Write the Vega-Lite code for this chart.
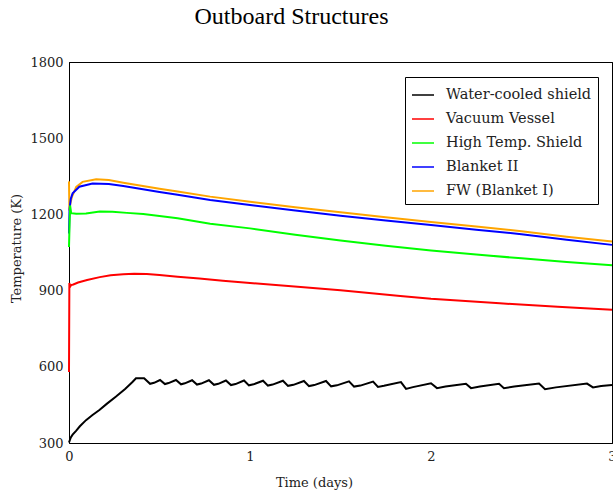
{
  "$schema": "https://vega.github.io/schema/vega-lite/v6.json",
  "width": 543,
  "height": 381,
  "autosize": {"type": "none"},
  "padding": {"left": 69, "top": 62, "right": 1, "bottom": 49},
  "background": "white",
  "title": {"text": "Outboard Structures", "font": "Liberation Serif", "fontSize": 24, "fontWeight": "normal", "color": "black", "anchor": "middle", "frame": "group", "dx": -49, "offset": 27},
  "config": {
    "view": {"stroke": "black", "strokeWidth": 1},
    "axis": {"grid": false, "domainColor": "black", "tickColor": "black", "tickWidth": 1, "labelFont": "DejaVu Serif", "labelFontSize": 13, "labelColor": "#222", "titleFont": "DejaVu Serif", "titleFontSize": 13, "titleFontWeight": "normal", "titleColor": "#222"}
  },
  "data": {"values": [
    {"series": "FW (Blanket I)", "t": 0, "temp": 1330},
    {"series": "FW (Blanket I)", "t": 0.002, "temp": 1215},
    {"series": "FW (Blanket I)", "t": 0.008, "temp": 1245},
    {"series": "FW (Blanket I)", "t": 0.017, "temp": 1270},
    {"series": "FW (Blanket I)", "t": 0.04, "temp": 1308},
    {"series": "FW (Blanket I)", "t": 0.075, "temp": 1328},
    {"series": "FW (Blanket I)", "t": 0.15, "temp": 1338},
    {"series": "FW (Blanket I)", "t": 0.22, "temp": 1335},
    {"series": "FW (Blanket I)", "t": 0.3, "temp": 1325},
    {"series": "FW (Blanket I)", "t": 0.4, "temp": 1313},
    {"series": "FW (Blanket I)", "t": 0.5, "temp": 1301},
    {"series": "FW (Blanket I)", "t": 0.6, "temp": 1290},
    {"series": "FW (Blanket I)", "t": 0.78, "temp": 1270},
    {"series": "FW (Blanket I)", "t": 1.0, "temp": 1250},
    {"series": "FW (Blanket I)", "t": 1.25, "temp": 1228},
    {"series": "FW (Blanket I)", "t": 1.5, "temp": 1208},
    {"series": "FW (Blanket I)", "t": 1.75, "temp": 1189},
    {"series": "FW (Blanket I)", "t": 2.0, "temp": 1170},
    {"series": "FW (Blanket I)", "t": 2.25, "temp": 1152},
    {"series": "FW (Blanket I)", "t": 2.5, "temp": 1134},
    {"series": "FW (Blanket I)", "t": 2.75, "temp": 1112},
    {"series": "FW (Blanket I)", "t": 3.0, "temp": 1093},
    {"series": "Blanket II", "t": 0, "temp": 1125},
    {"series": "Blanket II", "t": 0.003, "temp": 1222},
    {"series": "Blanket II", "t": 0.01, "temp": 1262},
    {"series": "Blanket II", "t": 0.02, "temp": 1283},
    {"series": "Blanket II", "t": 0.057, "temp": 1309},
    {"series": "Blanket II", "t": 0.13, "temp": 1322},
    {"series": "Blanket II", "t": 0.22, "temp": 1320},
    {"series": "Blanket II", "t": 0.3, "temp": 1312},
    {"series": "Blanket II", "t": 0.4, "temp": 1300},
    {"series": "Blanket II", "t": 0.5, "temp": 1288},
    {"series": "Blanket II", "t": 0.6, "temp": 1277},
    {"series": "Blanket II", "t": 0.78, "temp": 1257},
    {"series": "Blanket II", "t": 1.0, "temp": 1237},
    {"series": "Blanket II", "t": 1.25, "temp": 1215},
    {"series": "Blanket II", "t": 1.5, "temp": 1195},
    {"series": "Blanket II", "t": 1.75, "temp": 1176},
    {"series": "Blanket II", "t": 2.0, "temp": 1158},
    {"series": "Blanket II", "t": 2.25, "temp": 1140},
    {"series": "Blanket II", "t": 2.5, "temp": 1122},
    {"series": "Blanket II", "t": 2.75, "temp": 1100},
    {"series": "Blanket II", "t": 3.0, "temp": 1080},
    {"series": "High Temp. Shield", "t": 0, "temp": 1072},
    {"series": "High Temp. Shield", "t": 0.002, "temp": 1130},
    {"series": "High Temp. Shield", "t": 0.006, "temp": 1235},
    {"series": "High Temp. Shield", "t": 0.012, "temp": 1205},
    {"series": "High Temp. Shield", "t": 0.04, "temp": 1203},
    {"series": "High Temp. Shield", "t": 0.094, "temp": 1204},
    {"series": "High Temp. Shield", "t": 0.17, "temp": 1211},
    {"series": "High Temp. Shield", "t": 0.24, "temp": 1210},
    {"series": "High Temp. Shield", "t": 0.32, "temp": 1206},
    {"series": "High Temp. Shield", "t": 0.41, "temp": 1202},
    {"series": "High Temp. Shield", "t": 0.5, "temp": 1194},
    {"series": "High Temp. Shield", "t": 0.6, "temp": 1185},
    {"series": "High Temp. Shield", "t": 0.78, "temp": 1163},
    {"series": "High Temp. Shield", "t": 1.0, "temp": 1145},
    {"series": "High Temp. Shield", "t": 1.25, "temp": 1120},
    {"series": "High Temp. Shield", "t": 1.5, "temp": 1097},
    {"series": "High Temp. Shield", "t": 1.75, "temp": 1077},
    {"series": "High Temp. Shield", "t": 2.0, "temp": 1058},
    {"series": "High Temp. Shield", "t": 2.25, "temp": 1042},
    {"series": "High Temp. Shield", "t": 2.5, "temp": 1027},
    {"series": "High Temp. Shield", "t": 2.75, "temp": 1013},
    {"series": "High Temp. Shield", "t": 3.0, "temp": 1000},
    {"series": "Vacuum Vessel", "t": 0, "temp": 580},
    {"series": "Vacuum Vessel", "t": 0.002, "temp": 930},
    {"series": "Vacuum Vessel", "t": 0.006, "temp": 915},
    {"series": "Vacuum Vessel", "t": 0.012, "temp": 922},
    {"series": "Vacuum Vessel", "t": 0.024, "temp": 924},
    {"series": "Vacuum Vessel", "t": 0.05, "temp": 932},
    {"series": "Vacuum Vessel", "t": 0.1, "temp": 942},
    {"series": "Vacuum Vessel", "t": 0.17, "temp": 953},
    {"series": "Vacuum Vessel", "t": 0.23, "temp": 960},
    {"series": "Vacuum Vessel", "t": 0.3, "temp": 964},
    {"series": "Vacuum Vessel", "t": 0.36, "temp": 966},
    {"series": "Vacuum Vessel", "t": 0.43, "temp": 965},
    {"series": "Vacuum Vessel", "t": 0.5, "temp": 961},
    {"series": "Vacuum Vessel", "t": 0.6, "temp": 955},
    {"series": "Vacuum Vessel", "t": 0.72, "temp": 948},
    {"series": "Vacuum Vessel", "t": 0.85, "temp": 939},
    {"series": "Vacuum Vessel", "t": 1.0, "temp": 930},
    {"series": "Vacuum Vessel", "t": 1.28, "temp": 914},
    {"series": "Vacuum Vessel", "t": 1.5, "temp": 901},
    {"series": "Vacuum Vessel", "t": 1.83, "temp": 879},
    {"series": "Vacuum Vessel", "t": 2.0, "temp": 868},
    {"series": "Vacuum Vessel", "t": 2.38, "temp": 850},
    {"series": "Vacuum Vessel", "t": 2.7, "temp": 836},
    {"series": "Vacuum Vessel", "t": 3.0, "temp": 825},
    {"series": "Water-cooled shield", "t": 0, "temp": 302},
    {"series": "Water-cooled shield", "t": 0.01, "temp": 322},
    {"series": "Water-cooled shield", "t": 0.02, "temp": 333},
    {"series": "Water-cooled shield", "t": 0.039, "temp": 348},
    {"series": "Water-cooled shield", "t": 0.06, "temp": 366},
    {"series": "Water-cooled shield", "t": 0.094, "temp": 390},
    {"series": "Water-cooled shield", "t": 0.13, "temp": 410},
    {"series": "Water-cooled shield", "t": 0.168, "temp": 430},
    {"series": "Water-cooled shield", "t": 0.21, "temp": 455},
    {"series": "Water-cooled shield", "t": 0.26, "temp": 483},
    {"series": "Water-cooled shield", "t": 0.31, "temp": 513},
    {"series": "Water-cooled shield", "t": 0.352, "temp": 541},
    {"series": "Water-cooled shield", "t": 0.37, "temp": 555},
    {"series": "Water-cooled shield", "t": 0.415, "temp": 555},
    {"series": "Water-cooled shield", "t": 0.448, "temp": 533},
    {"series": "Water-cooled shield", "t": 0.47, "temp": 537},
    {"series": "Water-cooled shield", "t": 0.503, "temp": 548},
    {"series": "Water-cooled shield", "t": 0.53, "temp": 532},
    {"series": "Water-cooled shield", "t": 0.55, "temp": 536},
    {"series": "Water-cooled shield", "t": 0.591, "temp": 548},
    {"series": "Water-cooled shield", "t": 0.619, "temp": 531},
    {"series": "Water-cooled shield", "t": 0.64, "temp": 535},
    {"series": "Water-cooled shield", "t": 0.68, "temp": 547},
    {"series": "Water-cooled shield", "t": 0.707, "temp": 530},
    {"series": "Water-cooled shield", "t": 0.73, "temp": 534},
    {"series": "Water-cooled shield", "t": 0.773, "temp": 547},
    {"series": "Water-cooled shield", "t": 0.801, "temp": 529},
    {"series": "Water-cooled shield", "t": 0.825, "temp": 533},
    {"series": "Water-cooled shield", "t": 0.867, "temp": 546},
    {"series": "Water-cooled shield", "t": 0.895, "temp": 528},
    {"series": "Water-cooled shield", "t": 0.92, "temp": 532},
    {"series": "Water-cooled shield", "t": 0.967, "temp": 546},
    {"series": "Water-cooled shield", "t": 0.994, "temp": 527},
    {"series": "Water-cooled shield", "t": 1.02, "temp": 531},
    {"series": "Water-cooled shield", "t": 1.072, "temp": 545},
    {"series": "Water-cooled shield", "t": 1.099, "temp": 526},
    {"series": "Water-cooled shield", "t": 1.125, "temp": 530},
    {"series": "Water-cooled shield", "t": 1.182, "temp": 545},
    {"series": "Water-cooled shield", "t": 1.21, "temp": 525},
    {"series": "Water-cooled shield", "t": 1.24, "temp": 529},
    {"series": "Water-cooled shield", "t": 1.298, "temp": 544},
    {"series": "Water-cooled shield", "t": 1.326, "temp": 524},
    {"series": "Water-cooled shield", "t": 1.355, "temp": 528},
    {"series": "Water-cooled shield", "t": 1.42, "temp": 544},
    {"series": "Water-cooled shield", "t": 1.448, "temp": 523},
    {"series": "Water-cooled shield", "t": 1.48, "temp": 527},
    {"series": "Water-cooled shield", "t": 1.547, "temp": 543},
    {"series": "Water-cooled shield", "t": 1.575, "temp": 522},
    {"series": "Water-cooled shield", "t": 1.61, "temp": 526},
    {"series": "Water-cooled shield", "t": 1.68, "temp": 542},
    {"series": "Water-cooled shield", "t": 1.707, "temp": 521},
    {"series": "Water-cooled shield", "t": 1.74, "temp": 525},
    {"series": "Water-cooled shield", "t": 1.834, "temp": 540},
    {"series": "Water-cooled shield", "t": 1.862, "temp": 513},
    {"series": "Water-cooled shield", "t": 1.9, "temp": 520},
    {"series": "Water-cooled shield", "t": 2.0, "temp": 535},
    {"series": "Water-cooled shield", "t": 2.033, "temp": 516},
    {"series": "Water-cooled shield", "t": 2.08, "temp": 522},
    {"series": "Water-cooled shield", "t": 2.193, "temp": 533},
    {"series": "Water-cooled shield", "t": 2.221, "temp": 516},
    {"series": "Water-cooled shield", "t": 2.27, "temp": 522},
    {"series": "Water-cooled shield", "t": 2.376, "temp": 533},
    {"series": "Water-cooled shield", "t": 2.403, "temp": 516},
    {"series": "Water-cooled shield", "t": 2.46, "temp": 522},
    {"series": "Water-cooled shield", "t": 2.597, "temp": 534},
    {"series": "Water-cooled shield", "t": 2.63, "temp": 512},
    {"series": "Water-cooled shield", "t": 2.69, "temp": 519},
    {"series": "Water-cooled shield", "t": 2.862, "temp": 534},
    {"series": "Water-cooled shield", "t": 2.895, "temp": 519},
    {"series": "Water-cooled shield", "t": 2.94, "temp": 524},
    {"series": "Water-cooled shield", "t": 3.0, "temp": 528}
  ]},
  "layer": [
    {
      "mark": {"type": "line", "strokeWidth": 2},
      "encoding": {
        "x": {"field": "t", "type": "quantitative", "scale": {"domain": [0, 3], "nice": false, "zero": false},
              "axis": {"orient": "bottom", "title": "Time (days)", "values": [0, 0.5, 1, 1.5, 2, 2.5, 3], "labelExpr": "datum.value % 1 === 0 ? format(datum.value, 'd') : ''", "tickSize": 0, "labelPadding": 7, "titleX": 245, "titleY": 43, "titleBaseline": "alphabetic", "labelFlush": false, "labelOverlap": false,
                       "encode": {"ticks": {"update": {"y": {"value": 0}, "y2": [{"test": "datum.value % 1 === 0", "value": -11}, {"value": -6}]}}}}},
        "y": {"field": "temp", "type": "quantitative", "scale": {"domain": [300, 1800], "nice": false, "zero": false},
              "axis": {"orient": "left", "title": "Temperature (K)", "values": [300, 450, 600, 750, 900, 1050, 1200, 1350, 1500, 1650, 1800], "labelExpr": "datum.value % 300 === 0 ? format(datum.value, 'd') : ''", "tickSize": 0, "labelPadding": 6, "titleX": -49, "titleY": 186, "titleBaseline": "alphabetic", "labelFlush": false, "labelOverlap": false,
                       "encode": {"ticks": {"update": {"x": [{"test": "datum.value % 300 === 0", "value": -7}, {"value": 0}], "x2": [{"test": "datum.value % 300 === 0", "value": 11}, {"value": 7}]}}}}},
        "color": {"field": "series", "type": "nominal",
                  "scale": {"domain": ["Water-cooled shield", "Vacuum Vessel", "High Temp. Shield", "Blanket II", "FW (Blanket I)"], "range": ["#000000", "#ff0000", "#00ff00", "#0000ff", "#ffa500"]},
                  "legend": {"orient": "none", "legendX": 336, "legendY": 15, "title": null, "fillColor": "white", "strokeColor": "black", "padding": 6, "symbolType": "stroke", "symbolSize": 484, "symbolStrokeWidth": 1.5, "labelFont": "DejaVu Serif", "labelFontSize": 14.5, "labelColor": "#222", "labelOffset": 11, "rowPadding": 5, "labelLimit": 300}}
      }
    },
    {
      "mark": {"type": "line", "opacity": 0},
      "encoding": {
        "x": {"field": "t", "type": "quantitative", "scale": {"domain": [0, 3], "nice": false, "zero": false},
              "axis": {"orient": "top", "title": null, "labels": false, "values": [0, 0.5, 1, 1.5, 2, 2.5, 3], "tickSize": 0,
                       "encode": {"ticks": {"update": {"y": {"value": 0}, "y2": [{"test": "datum.value % 1 === 0", "value": 11}, {"value": 6}]}}}}},
        "y": {"field": "temp", "type": "quantitative", "scale": {"domain": [300, 1800], "nice": false, "zero": false},
              "axis": {"orient": "right", "title": null, "labels": false, "values": [300, 400, 500, 600, 700, 800, 900, 1000, 1100, 1200, 1300, 1400, 1500, 1600, 1700, 1800], "tickSize": 0,
                       "encode": {"ticks": {"update": {"x": {"value": 0}, "x2": [{"test": "datum.value % 300 === 0", "value": -11}, {"value": -5}]}}}}},
        "detail": {"field": "series", "type": "nominal"}
      }
    }
  ],
  "resolve": {"scale": {"x": "independent", "y": "independent"}}
}
